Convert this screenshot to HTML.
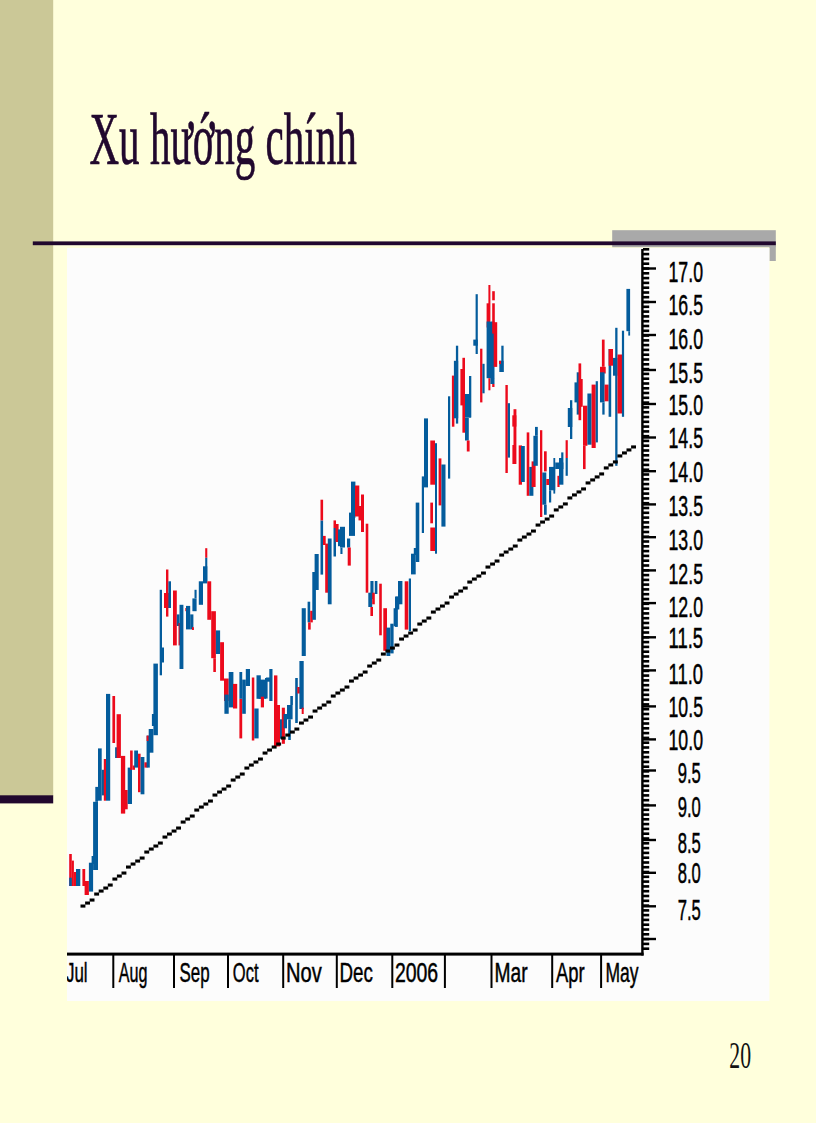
<!DOCTYPE html>
<html lang="vi">
<head>
<meta charset="utf-8">
<title>Xu hướng chính</title>
<style>
html,body{margin:0;padding:0}
body{width:816px;height:1123px;overflow:hidden;background:#FFFFDC;position:relative}
svg{position:absolute;left:0;top:0;display:block}
.sans{font-family:"Liberation Sans",sans-serif;fill:#000;stroke:#000;stroke-width:.3px}
.serif{font-family:"Liberation Serif",serif}
</style>
</head>
<body>
<svg width="816" height="1123" viewBox="0 0 816 1123">
<rect x="0" y="0" width="53.2" height="796" fill="#CBC897"/>
<rect x="0" y="795.3" width="53.2" height="8.1" fill="#21082E"/>
<rect x="612.2" y="230.2" width="163.6" height="17" fill="#A9A9A9"/>
<rect x="769.4" y="243" width="6.4" height="18" fill="#A9A9A9"/>
<rect x="67" y="248" width="702.4" height="753" fill="#FCFCFC"/>
<rect x="32.8" y="241.4" width="743" height="3.8" fill="#21082E"/>
<text class="serif" transform="translate(89.5,164) scale(0.553,1)" font-size="74.2" fill="#21082E" stroke="#21082E" stroke-width="0.7">Xu hướng chính</text>
<text class="serif" transform="translate(729.3,1068) scale(0.575,1)" font-size="37.9" fill="#111">20</text>
<g>
<rect x="69.2" y="854.0" width="2.6" height="32.0" fill="#EC0A1C"/>
<rect x="71.8" y="860.6" width="2.1" height="25.4" fill="#EC0A1C"/>
<rect x="69.2" y="877.7" width="2.6" height="8.3" fill="#045C9C"/>
<rect x="73.9" y="872.0" width="2.1" height="14.0" fill="#EC0A1C"/>
<rect x="76.0" y="869.0" width="4.3" height="17.0" fill="#045C9C"/>
<rect x="82.4" y="869.0" width="2.8" height="17.0" fill="#EC0A1C"/>
<rect x="84.6" y="881.0" width="4.3" height="14.0" fill="#EC0A1C"/>
<rect x="88.9" y="862.7" width="4.2" height="28.9" fill="#045C9C"/>
<rect x="91.6" y="856.0" width="3.7" height="8.0" fill="#045C9C"/>
<rect x="93.1" y="801.8" width="4.9" height="68.2" fill="#045C9C"/>
<rect x="95.3" y="786.9" width="2.7" height="14.9" fill="#045C9C"/>
<rect x="98.0" y="748.4" width="3.7" height="52.3" fill="#045C9C"/>
<rect x="101.7" y="769.8" width="4.3" height="25.6" fill="#045C9C"/>
<rect x="103.8" y="759.0" width="2.2" height="41.7" fill="#EC0A1C"/>
<rect x="106.0" y="693.9" width="4.2" height="106.8" fill="#045C9C"/>
<rect x="112.4" y="696.0" width="2.7" height="47.0" fill="#EC0A1C"/>
<rect x="115.1" y="747.3" width="3.7" height="10.7" fill="#045C9C"/>
<rect x="116.6" y="714.2" width="4.3" height="43.8" fill="#EC0A1C"/>
<rect x="120.9" y="755.9" width="4.3" height="57.7" fill="#EC0A1C"/>
<rect x="124.1" y="790.0" width="3.6" height="19.3" fill="#EC0A1C"/>
<rect x="127.7" y="767.6" width="4.3" height="36.4" fill="#045C9C"/>
<rect x="130.1" y="750.5" width="2.6" height="19.3" fill="#EC0A1C"/>
<rect x="132.7" y="765.5" width="2.3" height="4.3" fill="#EC0A1C"/>
<rect x="134.2" y="750.5" width="3.8" height="17.1" fill="#045C9C"/>
<rect x="138.0" y="753.7" width="2.6" height="38.5" fill="#EC0A1C"/>
<rect x="140.6" y="757.0" width="3.8" height="37.3" fill="#045C9C"/>
<rect x="144.4" y="762.3" width="3.2" height="5.3" fill="#EC0A1C"/>
<rect x="146.6" y="735.6" width="3.2" height="32.0" fill="#045C9C"/>
<rect x="146.6" y="735.6" width="2.1" height="5.4" fill="#EC0A1C"/>
<rect x="148.7" y="729.0" width="4.7" height="23.7" fill="#045C9C"/>
<rect x="151.9" y="714.0" width="4.3" height="12.0" fill="#045C9C"/>
<rect x="153.4" y="663.6" width="4.5" height="71.6" fill="#045C9C"/>
<rect x="159.7" y="589.8" width="2.3" height="85.5" fill="#045C9C"/>
<rect x="161.0" y="647.5" width="3.0" height="15.0" fill="#045C9C"/>
<rect x="164.0" y="593.0" width="4.9" height="15.0" fill="#EC0A1C"/>
<rect x="166.0" y="569.5" width="2.4" height="47.1" fill="#EC0A1C"/>
<rect x="168.4" y="581.3" width="2.6" height="26.7" fill="#045C9C"/>
<rect x="173.0" y="590.5" width="3.8" height="54.9" fill="#EC0A1C"/>
<rect x="176.8" y="614.4" width="2.7" height="11.6" fill="#045C9C"/>
<rect x="178.5" y="623.0" width="2.5" height="22.4" fill="#EC0A1C"/>
<rect x="179.5" y="604.8" width="3.9" height="64.2" fill="#045C9C"/>
<rect x="185.3" y="608.0" width="2.1" height="3.2" fill="#EC0A1C"/>
<rect x="186.0" y="605.9" width="4.2" height="23.5" fill="#045C9C"/>
<rect x="190.2" y="614.4" width="3.2" height="15.0" fill="#045C9C"/>
<rect x="192.0" y="627.2" width="1.9" height="2.8" fill="#EC0A1C"/>
<rect x="192.4" y="598.4" width="4.2" height="12.8" fill="#045C9C"/>
<rect x="194.5" y="589.8" width="2.1" height="8.6" fill="#045C9C"/>
<rect x="198.8" y="581.3" width="4.2" height="23.5" fill="#045C9C"/>
<rect x="203.0" y="566.3" width="4.3" height="17.1" fill="#045C9C"/>
<rect x="205.2" y="548.2" width="2.1" height="9.6" fill="#EC0A1C"/>
<rect x="205.2" y="557.8" width="2.1" height="23.5" fill="#045C9C"/>
<rect x="207.3" y="581.3" width="3.9" height="38.5" fill="#EC0A1C"/>
<rect x="211.2" y="611.2" width="4.7" height="47.0" fill="#EC0A1C"/>
<rect x="213.3" y="658.2" width="2.6" height="13.8" fill="#EC0A1C"/>
<rect x="215.9" y="630.4" width="4.2" height="23.6" fill="#045C9C"/>
<rect x="220.1" y="642.2" width="3.9" height="38.5" fill="#EC0A1C"/>
<rect x="224.0" y="678.5" width="4.7" height="22.5" fill="#EC0A1C"/>
<rect x="224.4" y="694.6" width="4.3" height="19.2" fill="#045C9C"/>
<rect x="228.7" y="672.0" width="4.7" height="35.4" fill="#045C9C"/>
<rect x="233.0" y="683.9" width="4.2" height="24.6" fill="#EC0A1C"/>
<rect x="239.4" y="698.8" width="2.8" height="39.6" fill="#EC0A1C"/>
<rect x="239.4" y="672.0" width="2.8" height="26.8" fill="#045C9C"/>
<rect x="242.2" y="679.6" width="3.6" height="34.2" fill="#045C9C"/>
<rect x="245.8" y="669.0" width="4.2" height="17.0" fill="#045C9C"/>
<rect x="251.8" y="677.5" width="2.5" height="63.0" fill="#EC0A1C"/>
<rect x="254.3" y="708.5" width="4.3" height="29.9" fill="#045C9C"/>
<rect x="256.5" y="675.3" width="4.3" height="23.5" fill="#045C9C"/>
<rect x="258.6" y="679.6" width="7.4" height="19.2" fill="#045C9C"/>
<rect x="260.8" y="696.7" width="3.2" height="10.7" fill="#EC0A1C"/>
<rect x="266.0" y="677.5" width="4.4" height="4.2" fill="#045C9C"/>
<rect x="269.3" y="669.0" width="3.2" height="32.0" fill="#045C9C"/>
<rect x="265.0" y="678.0" width="2.6" height="20.6" fill="#045C9C"/>
<rect x="274.0" y="675.4" width="3.4" height="71.0" fill="#EC0A1C"/>
<rect x="276.6" y="705.0" width="3.4" height="41.4" fill="#EC0A1C"/>
<rect x="280.0" y="719.3" width="3.6" height="19.4" fill="#045C9C"/>
<rect x="281.8" y="707.7" width="3.1" height="36.1" fill="#EC0A1C"/>
<rect x="283.6" y="714.0" width="3.4" height="14.3" fill="#045C9C"/>
<rect x="287.0" y="705.0" width="5.6" height="14.3" fill="#045C9C"/>
<rect x="288.2" y="719.3" width="2.6" height="20.7" fill="#045C9C"/>
<rect x="290.3" y="696.0" width="2.6" height="9.0" fill="#045C9C"/>
<rect x="295.2" y="678.0" width="2.6" height="45.0" fill="#045C9C"/>
<rect x="297.3" y="687.0" width="2.6" height="6.5" fill="#EC0A1C"/>
<rect x="299.4" y="661.0" width="4.3" height="48.0" fill="#045C9C"/>
<rect x="301.7" y="707.7" width="2.0" height="6.3" fill="#EC0A1C"/>
<rect x="301.7" y="608.2" width="4.1" height="47.8" fill="#045C9C"/>
<rect x="307.6" y="601.7" width="2.6" height="20.7" fill="#045C9C"/>
<rect x="308.1" y="622.4" width="2.6" height="7.2" fill="#EC0A1C"/>
<rect x="310.2" y="610.8" width="2.6" height="11.6" fill="#EC0A1C"/>
<rect x="312.3" y="572.0" width="3.6" height="47.8" fill="#045C9C"/>
<rect x="314.6" y="554.0" width="4.1" height="36.0" fill="#045C9C"/>
<rect x="320.5" y="520.4" width="2.6" height="54.2" fill="#045C9C"/>
<rect x="320.5" y="499.7" width="2.6" height="20.7" fill="#EC0A1C"/>
<rect x="323.0" y="535.9" width="2.7" height="9.1" fill="#EC0A1C"/>
<rect x="325.2" y="543.6" width="3.8" height="49.1" fill="#EC0A1C"/>
<rect x="327.8" y="538.5" width="3.8" height="65.8" fill="#045C9C"/>
<rect x="333.5" y="520.4" width="2.5" height="7.6" fill="#EC0A1C"/>
<rect x="333.5" y="528.0" width="2.5" height="28.5" fill="#045C9C"/>
<rect x="335.5" y="524.0" width="3.1" height="18.0" fill="#EC0A1C"/>
<rect x="338.0" y="529.4" width="3.7" height="16.8" fill="#045C9C"/>
<rect x="340.0" y="526.8" width="5.0" height="20.7" fill="#045C9C"/>
<rect x="340.4" y="547.5" width="2.1" height="6.5" fill="#045C9C"/>
<rect x="347.0" y="538.5" width="3.2" height="9.0" fill="#045C9C"/>
<rect x="347.7" y="547.5" width="3.1" height="18.1" fill="#EC0A1C"/>
<rect x="349.0" y="512.6" width="6.0" height="23.3" fill="#045C9C"/>
<rect x="351.0" y="481.6" width="4.4" height="36.2" fill="#045C9C"/>
<rect x="355.0" y="485.5" width="4.3" height="31.0" fill="#EC0A1C"/>
<rect x="358.5" y="506.0" width="2.5" height="14.4" fill="#EC0A1C"/>
<rect x="361.0" y="494.5" width="3.0" height="37.5" fill="#EC0A1C"/>
<rect x="365.7" y="523.7" width="2.6" height="69.0" fill="#EC0A1C"/>
<rect x="368.3" y="592.7" width="3.9" height="14.3" fill="#045C9C"/>
<rect x="370.4" y="581.0" width="3.1" height="18.0" fill="#045C9C"/>
<rect x="370.4" y="607.0" width="2.6" height="9.0" fill="#EC0A1C"/>
<rect x="372.2" y="592.7" width="2.6" height="11.6" fill="#EC0A1C"/>
<rect x="374.8" y="581.0" width="2.6" height="13.0" fill="#045C9C"/>
<rect x="379.2" y="583.7" width="2.6" height="51.6" fill="#EC0A1C"/>
<rect x="383.3" y="608.2" width="3.7" height="42.6" fill="#EC0A1C"/>
<rect x="386.4" y="627.6" width="3.9" height="28.4" fill="#045C9C"/>
<rect x="390.3" y="623.7" width="3.3" height="29.7" fill="#045C9C"/>
<rect x="393.6" y="608.2" width="3.7" height="18.1" fill="#045C9C"/>
<rect x="396.2" y="596.6" width="3.1" height="12.9" fill="#045C9C"/>
<rect x="398.0" y="581.0" width="4.4" height="23.3" fill="#045C9C"/>
<rect x="395.0" y="596.5" width="2.8" height="30.4" fill="#045C9C"/>
<rect x="404.7" y="581.3" width="3.6" height="48.3" fill="#EC0A1C"/>
<rect x="408.8" y="578.5" width="2.2" height="52.5" fill="#045C9C"/>
<rect x="411.0" y="553.7" width="4.7" height="20.7" fill="#045C9C"/>
<rect x="413.8" y="548.0" width="3.8" height="7.0" fill="#045C9C"/>
<rect x="415.7" y="502.6" width="3.6" height="59.4" fill="#045C9C"/>
<rect x="421.8" y="476.4" width="2.2" height="56.6" fill="#045C9C"/>
<rect x="424.0" y="418.4" width="4.0" height="69.0" fill="#045C9C"/>
<rect x="430.3" y="440.5" width="4.7" height="44.2" fill="#EC0A1C"/>
<rect x="430.3" y="502.6" width="2.7" height="20.7" fill="#EC0A1C"/>
<rect x="430.3" y="527.5" width="4.7" height="23.5" fill="#EC0A1C"/>
<rect x="435.0" y="443.2" width="2.0" height="110.5" fill="#045C9C"/>
<rect x="438.6" y="458.4" width="2.8" height="47.0" fill="#EC0A1C"/>
<rect x="441.4" y="464.5" width="4.1" height="62.1" fill="#045C9C"/>
<rect x="448.0" y="396.3" width="2.2" height="82.3" fill="#045C9C"/>
<rect x="451.9" y="375.6" width="2.5" height="51.1" fill="#EC0A1C"/>
<rect x="453.9" y="360.8" width="4.3" height="57.5" fill="#045C9C"/>
<rect x="455.9" y="345.7" width="2.3" height="77.9" fill="#045C9C"/>
<rect x="460.4" y="369.0" width="4.6" height="36.4" fill="#EC0A1C"/>
<rect x="462.4" y="357.8" width="2.6" height="74.9" fill="#EC0A1C"/>
<rect x="465.0" y="394.0" width="6.0" height="23.5" fill="#045C9C"/>
<rect x="465.0" y="417.5" width="3.8" height="23.0" fill="#045C9C"/>
<rect x="466.8" y="440.5" width="2.8" height="11.0" fill="#EC0A1C"/>
<rect x="469.0" y="376.0" width="2.3" height="41.5" fill="#045C9C"/>
<rect x="473.3" y="339.6" width="4.5" height="6.1" fill="#045C9C"/>
<rect x="475.6" y="294.2" width="2.2" height="59.8" fill="#045C9C"/>
<rect x="480.1" y="348.7" width="2.3" height="53.7" fill="#EC0A1C"/>
<rect x="482.4" y="363.8" width="2.2" height="29.5" fill="#045C9C"/>
<rect x="486.6" y="303.3" width="3.4" height="24.2" fill="#EC0A1C"/>
<rect x="488.4" y="285.0" width="2.0" height="36.5" fill="#EC0A1C"/>
<rect x="486.6" y="321.5" width="7.9" height="56.7" fill="#045C9C"/>
<rect x="488.4" y="378.2" width="2.0" height="12.1" fill="#EC0A1C"/>
<rect x="490.4" y="378.0" width="4.1" height="6.0" fill="#045C9C"/>
<rect x="492.2" y="384.0" width="2.3" height="3.0" fill="#EC0A1C"/>
<rect x="492.2" y="291.2" width="2.6" height="9.1" fill="#EC0A1C"/>
<rect x="492.2" y="303.3" width="2.6" height="30.3" fill="#EC0A1C"/>
<rect x="493.7" y="322.2" width="3.5" height="44.7" fill="#EC0A1C"/>
<rect x="499.3" y="360.8" width="4.3" height="11.2" fill="#045C9C"/>
<rect x="501.3" y="345.7" width="2.3" height="26.3" fill="#045C9C"/>
<rect x="499.0" y="360.8" width="2.0" height="3.2" fill="#EC0A1C"/>
<rect x="505.4" y="385.0" width="2.4" height="88.0" fill="#EC0A1C"/>
<rect x="507.8" y="403.2" width="2.2" height="54.4" fill="#045C9C"/>
<rect x="512.3" y="415.3" width="4.1" height="11.3" fill="#EC0A1C"/>
<rect x="513.5" y="409.2" width="2.9" height="54.8" fill="#EC0A1C"/>
<rect x="512.4" y="445.0" width="2.6" height="19.0" fill="#EC0A1C"/>
<rect x="518.7" y="445.4" width="3.3" height="39.3" fill="#EC0A1C"/>
<rect x="521.0" y="446.0" width="3.8" height="36.0" fill="#045C9C"/>
<rect x="526.7" y="432.4" width="2.6" height="63.4" fill="#EC0A1C"/>
<rect x="529.3" y="466.9" width="4.1" height="28.9" fill="#045C9C"/>
<rect x="531.6" y="461.4" width="4.0" height="25.6" fill="#EC0A1C"/>
<rect x="533.4" y="435.8" width="4.4" height="30.0" fill="#045C9C"/>
<rect x="535.0" y="426.9" width="2.8" height="8.9" fill="#045C9C"/>
<rect x="540.0" y="430.2" width="2.3" height="86.8" fill="#EC0A1C"/>
<rect x="542.3" y="472.5" width="4.0" height="32.2" fill="#045C9C"/>
<rect x="544.0" y="451.3" width="2.7" height="20.1" fill="#EC0A1C"/>
<rect x="544.0" y="504.7" width="2.7" height="10.1" fill="#045C9C"/>
<rect x="546.3" y="479.0" width="2.7" height="6.0" fill="#EC0A1C"/>
<rect x="549.0" y="466.9" width="6.2" height="23.4" fill="#045C9C"/>
<rect x="549.0" y="490.3" width="2.2" height="12.2" fill="#045C9C"/>
<rect x="553.4" y="458.0" width="1.8" height="35.6" fill="#045C9C"/>
<rect x="555.2" y="462.5" width="8.2" height="6.5" fill="#045C9C"/>
<rect x="557.4" y="475.8" width="2.2" height="11.2" fill="#EC0A1C"/>
<rect x="559.0" y="458.0" width="4.4" height="26.7" fill="#045C9C"/>
<rect x="561.2" y="452.4" width="2.2" height="5.6" fill="#045C9C"/>
<rect x="565.6" y="440.2" width="2.2" height="17.8" fill="#EC0A1C"/>
<rect x="565.6" y="458.0" width="2.2" height="17.8" fill="#045C9C"/>
<rect x="567.8" y="408.0" width="4.5" height="19.0" fill="#045C9C"/>
<rect x="570.0" y="400.2" width="2.3" height="38.8" fill="#045C9C"/>
<rect x="574.5" y="382.4" width="3.8" height="20.0" fill="#045C9C"/>
<rect x="576.7" y="372.3" width="2.7" height="42.3" fill="#045C9C"/>
<rect x="578.5" y="363.4" width="2.7" height="56.8" fill="#EC0A1C"/>
<rect x="580.0" y="379.0" width="2.7" height="27.8" fill="#EC0A1C"/>
<rect x="583.0" y="405.7" width="4.4" height="40.1" fill="#EC0A1C"/>
<rect x="583.0" y="445.8" width="2.6" height="23.3" fill="#EC0A1C"/>
<rect x="587.4" y="393.5" width="4.2" height="51.2" fill="#045C9C"/>
<rect x="591.6" y="384.6" width="4.1" height="63.4" fill="#EC0A1C"/>
<rect x="595.7" y="381.2" width="2.2" height="61.2" fill="#045C9C"/>
<rect x="600.0" y="366.8" width="5.7" height="6.7" fill="#EC0A1C"/>
<rect x="601.9" y="339.6" width="2.7" height="27.2" fill="#EC0A1C"/>
<rect x="600.0" y="372.3" width="4.6" height="30.1" fill="#045C9C"/>
<rect x="602.3" y="402.4" width="2.3" height="12.2" fill="#045C9C"/>
<rect x="604.6" y="384.6" width="4.0" height="16.7" fill="#EC0A1C"/>
<rect x="608.6" y="349.0" width="2.6" height="67.8" fill="#045C9C"/>
<rect x="608.6" y="349.0" width="4.4" height="16.7" fill="#EC0A1C"/>
<rect x="613.0" y="357.9" width="4.5" height="17.8" fill="#045C9C"/>
<rect x="615.2" y="327.8" width="2.3" height="138.0" fill="#045C9C"/>
<rect x="617.5" y="354.5" width="4.9" height="59.0" fill="#EC0A1C"/>
<rect x="621.9" y="330.7" width="2.2" height="86.1" fill="#045C9C"/>
<rect x="626.4" y="288.9" width="3.7" height="42.3" fill="#045C9C"/>
<rect x="628.3" y="331.2" width="1.8" height="4.4" fill="#045C9C"/>
</g>
<g fill="#000">
<rect x="80.5" y="904.5" width="4.9" height="3.1"/>
<rect x="85.1" y="901.5" width="4.9" height="3.1"/>
<rect x="89.6" y="898.5" width="4.9" height="3.1"/>
<rect x="94.2" y="892.5" width="4.9" height="3.1"/>
<rect x="98.7" y="889.5" width="4.9" height="3.1"/>
<rect x="103.3" y="886.5" width="4.9" height="3.1"/>
<rect x="107.8" y="883.5" width="4.9" height="3.1"/>
<rect x="112.4" y="877.5" width="4.9" height="3.1"/>
<rect x="116.9" y="874.5" width="4.9" height="3.1"/>
<rect x="121.5" y="871.5" width="4.9" height="3.1"/>
<rect x="126.0" y="865.5" width="4.9" height="3.1"/>
<rect x="130.6" y="862.5" width="4.9" height="3.1"/>
<rect x="135.2" y="859.5" width="4.9" height="3.1"/>
<rect x="139.7" y="856.5" width="4.9" height="3.1"/>
<rect x="144.3" y="850.5" width="4.9" height="3.1"/>
<rect x="148.8" y="847.5" width="4.9" height="3.1"/>
<rect x="153.4" y="844.5" width="4.9" height="3.1"/>
<rect x="157.9" y="841.5" width="4.9" height="3.1"/>
<rect x="162.5" y="835.5" width="4.9" height="3.1"/>
<rect x="167.0" y="832.5" width="4.9" height="3.1"/>
<rect x="171.6" y="829.5" width="4.9" height="3.1"/>
<rect x="176.1" y="826.5" width="4.9" height="3.1"/>
<rect x="180.7" y="820.5" width="4.9" height="3.1"/>
<rect x="185.2" y="817.5" width="4.9" height="3.1"/>
<rect x="189.8" y="814.5" width="4.9" height="3.1"/>
<rect x="194.3" y="808.5" width="4.9" height="3.1"/>
<rect x="198.9" y="805.5" width="4.9" height="3.1"/>
<rect x="203.4" y="802.5" width="4.9" height="3.1"/>
<rect x="208.0" y="799.5" width="4.9" height="3.1"/>
<rect x="212.5" y="793.5" width="4.9" height="3.1"/>
<rect x="217.1" y="790.5" width="4.9" height="3.1"/>
<rect x="221.6" y="787.5" width="4.9" height="3.1"/>
<rect x="226.2" y="784.5" width="4.9" height="3.1"/>
<rect x="230.7" y="778.5" width="4.9" height="3.1"/>
<rect x="235.3" y="775.5" width="4.9" height="3.1"/>
<rect x="239.8" y="772.5" width="4.9" height="3.1"/>
<rect x="244.4" y="766.5" width="4.9" height="3.1"/>
<rect x="248.9" y="763.5" width="4.9" height="3.1"/>
<rect x="253.5" y="760.5" width="4.9" height="3.1"/>
<rect x="258.0" y="757.5" width="4.9" height="3.1"/>
<rect x="262.6" y="751.5" width="4.9" height="3.1"/>
<rect x="267.1" y="748.5" width="4.9" height="3.1"/>
<rect x="271.7" y="745.5" width="4.9" height="3.1"/>
<rect x="276.2" y="742.5" width="4.9" height="3.1"/>
<rect x="280.8" y="736.5" width="4.9" height="3.1"/>
<rect x="285.3" y="733.5" width="4.9" height="3.1"/>
<rect x="289.9" y="730.5" width="4.9" height="3.1"/>
<rect x="294.4" y="727.5" width="4.9" height="3.1"/>
<rect x="299.0" y="721.5" width="4.9" height="3.1"/>
<rect x="303.5" y="718.5" width="4.9" height="3.1"/>
<rect x="308.1" y="715.5" width="4.9" height="3.1"/>
<rect x="312.6" y="709.5" width="4.9" height="3.1"/>
<rect x="317.2" y="706.5" width="4.9" height="3.1"/>
<rect x="321.7" y="703.5" width="4.9" height="3.1"/>
<rect x="326.3" y="700.5" width="4.9" height="3.1"/>
<rect x="330.8" y="694.5" width="4.9" height="3.1"/>
<rect x="335.4" y="691.5" width="4.9" height="3.1"/>
<rect x="339.9" y="688.5" width="4.9" height="3.1"/>
<rect x="344.5" y="685.5" width="4.9" height="3.1"/>
<rect x="349.0" y="679.5" width="4.9" height="3.1"/>
<rect x="353.6" y="676.5" width="4.9" height="3.1"/>
<rect x="358.1" y="673.5" width="4.9" height="3.1"/>
<rect x="362.7" y="670.5" width="4.9" height="3.1"/>
<rect x="367.2" y="664.5" width="4.9" height="3.1"/>
<rect x="371.8" y="661.5" width="4.9" height="3.1"/>
<rect x="376.3" y="658.5" width="4.9" height="3.1"/>
<rect x="380.9" y="652.5" width="4.9" height="3.1"/>
<rect x="385.4" y="649.5" width="4.9" height="3.1"/>
<rect x="390.0" y="646.5" width="4.9" height="3.1"/>
<rect x="394.5" y="643.5" width="4.9" height="3.1"/>
<rect x="399.1" y="637.5" width="4.9" height="3.1"/>
<rect x="403.6" y="634.5" width="4.9" height="3.1"/>
<rect x="408.2" y="631.5" width="4.9" height="3.1"/>
<rect x="412.7" y="628.5" width="4.9" height="3.1"/>
<rect x="417.3" y="622.5" width="4.9" height="3.1"/>
<rect x="421.8" y="619.5" width="4.9" height="3.1"/>
<rect x="426.4" y="616.5" width="4.9" height="3.1"/>
<rect x="430.9" y="610.5" width="4.9" height="3.1"/>
<rect x="435.5" y="607.5" width="4.9" height="3.1"/>
<rect x="440.0" y="604.5" width="4.9" height="3.1"/>
<rect x="444.6" y="601.5" width="4.9" height="3.1"/>
<rect x="449.1" y="595.5" width="4.9" height="3.1"/>
<rect x="453.7" y="592.5" width="4.9" height="3.1"/>
<rect x="458.2" y="589.5" width="4.9" height="3.1"/>
<rect x="462.8" y="586.5" width="4.9" height="3.1"/>
<rect x="467.3" y="580.5" width="4.9" height="3.1"/>
<rect x="471.9" y="577.5" width="4.9" height="3.1"/>
<rect x="476.4" y="574.5" width="4.9" height="3.1"/>
<rect x="481.0" y="571.5" width="4.9" height="3.1"/>
<rect x="485.5" y="565.5" width="4.9" height="3.1"/>
<rect x="490.1" y="562.5" width="4.9" height="3.1"/>
<rect x="494.6" y="559.5" width="4.9" height="3.1"/>
<rect x="499.2" y="553.5" width="4.9" height="3.1"/>
<rect x="503.7" y="550.5" width="4.9" height="3.1"/>
<rect x="508.3" y="547.5" width="4.9" height="3.1"/>
<rect x="512.8" y="544.5" width="4.9" height="3.1"/>
<rect x="517.4" y="538.5" width="4.9" height="3.1"/>
<rect x="521.9" y="535.5" width="4.9" height="3.1"/>
<rect x="526.5" y="532.5" width="4.9" height="3.1"/>
<rect x="531.0" y="529.5" width="4.9" height="3.1"/>
<rect x="535.6" y="523.5" width="4.9" height="3.1"/>
<rect x="540.1" y="520.5" width="4.9" height="3.1"/>
<rect x="544.7" y="517.5" width="4.9" height="3.1"/>
<rect x="549.2" y="514.5" width="4.9" height="3.1"/>
<rect x="553.8" y="508.4" width="4.9" height="3.1"/>
<rect x="558.3" y="505.4" width="4.9" height="3.1"/>
<rect x="562.9" y="502.4" width="4.9" height="3.1"/>
<rect x="567.4" y="496.4" width="4.9" height="3.1"/>
<rect x="572.0" y="493.4" width="4.9" height="3.1"/>
<rect x="576.5" y="490.4" width="4.9" height="3.1"/>
<rect x="581.1" y="487.4" width="4.9" height="3.1"/>
<rect x="585.6" y="481.4" width="4.9" height="3.1"/>
<rect x="590.2" y="478.4" width="4.9" height="3.1"/>
<rect x="594.7" y="475.4" width="4.9" height="3.1"/>
<rect x="599.2" y="472.4" width="4.9" height="3.1"/>
<rect x="603.8" y="466.4" width="4.9" height="3.1"/>
<rect x="608.3" y="463.4" width="4.9" height="3.1"/>
<rect x="612.9" y="460.4" width="4.9" height="3.1"/>
<rect x="617.4" y="454.4" width="4.9" height="3.1"/>
<rect x="622.0" y="451.4" width="4.9" height="3.1"/>
<rect x="626.5" y="448.4" width="4.9" height="3.1"/>
<rect x="631.1" y="445.4" width="4.9" height="3.1"/>
</g>
<g fill="#000">
<rect x="641.2" y="249" width="2.4" height="706.5"/>
<rect x="67" y="952.6" width="576.6" height="3"/>
<rect x="643" y="248.0" width="6.2" height="2.6"/>
<rect x="643" y="252.8" width="6.2" height="2.6"/>
<rect x="643" y="257.6" width="6.2" height="2.6"/>
<rect x="643" y="262.4" width="6.2" height="2.6"/>
<rect x="643" y="267.2" width="6.2" height="2.6"/>
<rect x="643" y="272.0" width="6.2" height="2.6"/>
<rect x="643" y="276.8" width="6.2" height="2.6"/>
<rect x="643" y="281.6" width="6.2" height="2.6"/>
<rect x="643" y="286.4" width="6.2" height="2.6"/>
<rect x="643" y="291.2" width="6.2" height="2.6"/>
<rect x="643" y="295.9" width="6.2" height="2.6"/>
<rect x="643" y="300.7" width="6.2" height="2.6"/>
<rect x="643" y="305.5" width="6.2" height="2.6"/>
<rect x="643" y="310.3" width="6.2" height="2.6"/>
<rect x="643" y="315.1" width="6.2" height="2.6"/>
<rect x="643" y="319.9" width="6.2" height="2.6"/>
<rect x="643" y="324.7" width="6.2" height="2.6"/>
<rect x="643" y="329.5" width="6.2" height="2.6"/>
<rect x="643" y="334.3" width="6.2" height="2.6"/>
<rect x="643" y="339.1" width="6.2" height="2.6"/>
<rect x="643" y="343.8" width="6.2" height="2.6"/>
<rect x="643" y="348.6" width="6.2" height="2.6"/>
<rect x="643" y="353.4" width="6.2" height="2.6"/>
<rect x="643" y="358.2" width="6.2" height="2.6"/>
<rect x="643" y="363.0" width="6.2" height="2.6"/>
<rect x="643" y="367.8" width="6.2" height="2.6"/>
<rect x="643" y="372.6" width="6.2" height="2.6"/>
<rect x="643" y="377.4" width="6.2" height="2.6"/>
<rect x="643" y="382.2" width="6.2" height="2.6"/>
<rect x="643" y="387.0" width="6.2" height="2.6"/>
<rect x="643" y="391.7" width="6.2" height="2.6"/>
<rect x="643" y="396.5" width="6.2" height="2.6"/>
<rect x="643" y="401.3" width="6.2" height="2.6"/>
<rect x="643" y="406.1" width="6.2" height="2.6"/>
<rect x="643" y="410.9" width="6.2" height="2.6"/>
<rect x="643" y="415.7" width="6.2" height="2.6"/>
<rect x="643" y="420.5" width="6.2" height="2.6"/>
<rect x="643" y="425.3" width="6.2" height="2.6"/>
<rect x="643" y="430.1" width="6.2" height="2.6"/>
<rect x="643" y="434.9" width="6.2" height="2.6"/>
<rect x="643" y="439.6" width="6.2" height="2.6"/>
<rect x="643" y="444.4" width="6.2" height="2.6"/>
<rect x="643" y="449.2" width="6.2" height="2.6"/>
<rect x="643" y="454.0" width="6.2" height="2.6"/>
<rect x="643" y="458.8" width="6.2" height="2.6"/>
<rect x="643" y="463.6" width="6.2" height="2.6"/>
<rect x="643" y="468.4" width="6.2" height="2.6"/>
<rect x="643" y="473.2" width="6.2" height="2.6"/>
<rect x="643" y="478.0" width="6.2" height="2.6"/>
<rect x="643" y="482.8" width="6.2" height="2.6"/>
<rect x="643" y="487.5" width="6.2" height="2.6"/>
<rect x="643" y="492.3" width="6.2" height="2.6"/>
<rect x="643" y="497.1" width="6.2" height="2.6"/>
<rect x="643" y="501.9" width="6.2" height="2.6"/>
<rect x="643" y="506.7" width="6.2" height="2.6"/>
<rect x="643" y="511.5" width="6.2" height="2.6"/>
<rect x="643" y="516.3" width="6.2" height="2.6"/>
<rect x="643" y="521.1" width="6.2" height="2.6"/>
<rect x="643" y="525.9" width="6.2" height="2.6"/>
<rect x="643" y="530.7" width="6.2" height="2.6"/>
<rect x="643" y="535.4" width="6.2" height="2.6"/>
<rect x="643" y="540.2" width="6.2" height="2.6"/>
<rect x="643" y="545.0" width="6.2" height="2.6"/>
<rect x="643" y="549.8" width="6.2" height="2.6"/>
<rect x="643" y="554.6" width="6.2" height="2.6"/>
<rect x="643" y="559.4" width="6.2" height="2.6"/>
<rect x="643" y="564.2" width="6.2" height="2.6"/>
<rect x="643" y="569.0" width="6.2" height="2.6"/>
<rect x="643" y="573.8" width="6.2" height="2.6"/>
<rect x="643" y="578.6" width="6.2" height="2.6"/>
<rect x="643" y="583.3" width="6.2" height="2.6"/>
<rect x="643" y="588.1" width="6.2" height="2.6"/>
<rect x="643" y="592.9" width="6.2" height="2.6"/>
<rect x="643" y="597.7" width="6.2" height="2.6"/>
<rect x="643" y="602.5" width="6.2" height="2.6"/>
<rect x="643" y="607.3" width="6.2" height="2.6"/>
<rect x="643" y="612.1" width="6.2" height="2.6"/>
<rect x="643" y="616.9" width="6.2" height="2.6"/>
<rect x="643" y="621.7" width="6.2" height="2.6"/>
<rect x="643" y="626.5" width="6.2" height="2.6"/>
<rect x="643" y="631.2" width="6.2" height="2.6"/>
<rect x="643" y="636.0" width="6.2" height="2.6"/>
<rect x="643" y="640.8" width="6.2" height="2.6"/>
<rect x="643" y="645.6" width="6.2" height="2.6"/>
<rect x="643" y="650.4" width="6.2" height="2.6"/>
<rect x="643" y="655.2" width="6.2" height="2.6"/>
<rect x="643" y="660.0" width="6.2" height="2.6"/>
<rect x="643" y="664.8" width="6.2" height="2.6"/>
<rect x="643" y="669.6" width="6.2" height="2.6"/>
<rect x="643" y="674.3" width="6.2" height="2.6"/>
<rect x="643" y="679.1" width="6.2" height="2.6"/>
<rect x="643" y="683.9" width="6.2" height="2.6"/>
<rect x="643" y="688.7" width="6.2" height="2.6"/>
<rect x="643" y="693.5" width="6.2" height="2.6"/>
<rect x="643" y="698.3" width="6.2" height="2.6"/>
<rect x="643" y="703.1" width="6.2" height="2.6"/>
<rect x="643" y="707.9" width="6.2" height="2.6"/>
<rect x="643" y="712.7" width="6.2" height="2.6"/>
<rect x="643" y="717.5" width="6.2" height="2.6"/>
<rect x="643" y="722.2" width="6.2" height="2.6"/>
<rect x="643" y="727.0" width="6.2" height="2.6"/>
<rect x="643" y="731.8" width="6.2" height="2.6"/>
<rect x="643" y="736.6" width="6.2" height="2.6"/>
<rect x="643" y="741.4" width="6.2" height="2.6"/>
<rect x="643" y="746.2" width="6.2" height="2.6"/>
<rect x="643" y="751.0" width="6.2" height="2.6"/>
<rect x="643" y="755.8" width="6.2" height="2.6"/>
<rect x="643" y="760.6" width="6.2" height="2.6"/>
<rect x="643" y="765.4" width="6.2" height="2.6"/>
<rect x="643" y="770.1" width="6.2" height="2.6"/>
<rect x="643" y="774.9" width="6.2" height="2.6"/>
<rect x="643" y="779.7" width="6.2" height="2.6"/>
<rect x="643" y="784.5" width="6.2" height="2.6"/>
<rect x="643" y="789.3" width="6.2" height="2.6"/>
<rect x="643" y="794.1" width="6.2" height="2.6"/>
<rect x="643" y="798.9" width="6.2" height="2.6"/>
<rect x="643" y="803.7" width="6.2" height="2.6"/>
<rect x="643" y="808.5" width="6.2" height="2.6"/>
<rect x="643" y="813.3" width="6.2" height="2.6"/>
<rect x="643" y="818.0" width="6.2" height="2.6"/>
<rect x="643" y="822.8" width="6.2" height="2.6"/>
<rect x="643" y="827.6" width="6.2" height="2.6"/>
<rect x="643" y="832.4" width="6.2" height="2.6"/>
<rect x="643" y="837.2" width="6.2" height="2.6"/>
<rect x="643" y="842.0" width="6.2" height="2.6"/>
<rect x="643" y="846.8" width="6.2" height="2.6"/>
<rect x="643" y="851.6" width="6.2" height="2.6"/>
<rect x="643" y="856.4" width="6.2" height="2.6"/>
<rect x="643" y="861.2" width="6.2" height="2.6"/>
<rect x="643" y="865.9" width="6.2" height="2.6"/>
<rect x="643" y="870.7" width="6.2" height="2.6"/>
<rect x="643" y="875.5" width="6.2" height="2.6"/>
<rect x="643" y="880.3" width="6.2" height="2.6"/>
<rect x="643" y="885.1" width="6.2" height="2.6"/>
<rect x="643" y="889.9" width="6.2" height="2.6"/>
<rect x="643" y="894.7" width="6.2" height="2.6"/>
<rect x="643" y="899.5" width="6.2" height="2.6"/>
<rect x="643" y="904.3" width="6.2" height="2.6"/>
<rect x="643" y="909.1" width="6.2" height="2.6"/>
<rect x="643" y="913.8" width="6.2" height="2.6"/>
<rect x="643" y="918.6" width="6.2" height="2.6"/>
<rect x="643" y="923.4" width="6.2" height="2.6"/>
<rect x="643" y="928.2" width="6.2" height="2.6"/>
<rect x="643" y="933.0" width="6.2" height="2.6"/>
<rect x="643" y="937.8" width="6.2" height="2.6"/>
<rect x="643" y="942.6" width="6.2" height="2.6"/>
<rect x="643" y="947.4" width="6.2" height="2.6"/>
<rect x="643" y="267.3" width="13" height="2.4"/>
<rect x="643" y="300.8" width="13" height="2.4"/>
<rect x="643" y="333.8" width="13" height="2.4"/>
<rect x="643" y="368.8" width="13" height="2.4"/>
<rect x="643" y="402.8" width="13" height="2.4"/>
<rect x="643" y="436.3" width="13" height="2.4"/>
<rect x="643" y="470.0" width="13" height="2.4"/>
<rect x="643" y="503.2" width="13" height="2.4"/>
<rect x="643" y="536.0" width="13" height="2.4"/>
<rect x="643" y="569.2" width="13" height="2.4"/>
<rect x="643" y="601.9" width="13" height="2.4"/>
<rect x="643" y="636.1" width="13" height="2.4"/>
<rect x="643" y="669.2" width="13" height="2.4"/>
<rect x="643" y="705.2" width="13" height="2.4"/>
<rect x="643" y="738.2" width="13" height="2.4"/>
<rect x="643" y="769.3" width="13" height="2.4"/>
<rect x="643" y="804.2" width="13" height="2.4"/>
<rect x="643" y="838.8" width="13" height="2.4"/>
<rect x="643" y="871.6" width="13" height="2.4"/>
<rect x="643" y="905.1" width="13" height="2.4"/>
<rect x="643" y="937.8" width="13" height="2.4"/>
<rect x="112.3" y="954" width="2" height="34"/>
<rect x="173.0" y="954" width="2" height="34"/>
<rect x="227.0" y="954" width="2" height="34"/>
<rect x="282.2" y="954" width="2" height="34"/>
<rect x="335.8" y="954" width="2" height="34"/>
<rect x="391.3" y="954" width="2" height="34"/>
<rect x="443.9" y="954" width="2" height="34"/>
<rect x="490.5" y="954" width="2" height="34"/>
<rect x="551.2" y="954" width="2" height="34"/>
<rect x="600.1" y="954" width="2" height="34"/>
</g>
<text class="sans" transform="translate(668.5,282.2) scale(1,1.72)" font-size="17.6" textLength="34.5" lengthAdjust="spacingAndGlyphs">17.0</text>
<text class="sans" transform="translate(668.5,315.4) scale(1,1.72)" font-size="17.6" textLength="34.5" lengthAdjust="spacingAndGlyphs">16.5</text>
<text class="sans" transform="translate(668.5,349.4) scale(1,1.72)" font-size="17.6" textLength="34.5" lengthAdjust="spacingAndGlyphs">16.0</text>
<text class="sans" transform="translate(668.5,382.9) scale(1,1.72)" font-size="17.6" textLength="34.5" lengthAdjust="spacingAndGlyphs">15.5</text>
<text class="sans" transform="translate(668.5,414.9) scale(1,1.72)" font-size="17.6" textLength="34.5" lengthAdjust="spacingAndGlyphs">15.0</text>
<text class="sans" transform="translate(668.5,448.4) scale(1,1.72)" font-size="17.6" textLength="34.5" lengthAdjust="spacingAndGlyphs">14.5</text>
<text class="sans" transform="translate(668.5,482.4) scale(1,1.72)" font-size="17.6" textLength="34.5" lengthAdjust="spacingAndGlyphs">14.0</text>
<text class="sans" transform="translate(668.5,516.4) scale(1,1.72)" font-size="17.6" textLength="34.5" lengthAdjust="spacingAndGlyphs">13.5</text>
<text class="sans" transform="translate(668.5,549.9) scale(1,1.72)" font-size="17.6" textLength="34.5" lengthAdjust="spacingAndGlyphs">13.0</text>
<text class="sans" transform="translate(668.5,583.9) scale(1,1.72)" font-size="17.6" textLength="34.5" lengthAdjust="spacingAndGlyphs">12.5</text>
<text class="sans" transform="translate(668.5,617.2) scale(1,1.72)" font-size="17.6" textLength="34.5" lengthAdjust="spacingAndGlyphs">12.0</text>
<text class="sans" transform="translate(668.5,648.1) scale(1,1.72)" font-size="17.6" textLength="34.5" lengthAdjust="spacingAndGlyphs">11.5</text>
<text class="sans" transform="translate(668.5,684.1) scale(1,1.72)" font-size="17.6" textLength="34.5" lengthAdjust="spacingAndGlyphs">11.0</text>
<text class="sans" transform="translate(668.5,716.9) scale(1,1.72)" font-size="17.6" textLength="34.5" lengthAdjust="spacingAndGlyphs">10.5</text>
<text class="sans" transform="translate(668.5,750.1) scale(1,1.72)" font-size="17.6" textLength="34.5" lengthAdjust="spacingAndGlyphs">10.0</text>
<text class="sans" transform="translate(677.7,783.0) scale(1,1.72)" font-size="17.6" textLength="23.1" lengthAdjust="spacingAndGlyphs">9.5</text>
<text class="sans" transform="translate(677.7,816.8) scale(1,1.72)" font-size="17.6" textLength="23.1" lengthAdjust="spacingAndGlyphs">9.0</text>
<text class="sans" transform="translate(677.7,853.4) scale(1,1.72)" font-size="17.6" textLength="23.1" lengthAdjust="spacingAndGlyphs">8.5</text>
<text class="sans" transform="translate(677.7,883.4) scale(1,1.72)" font-size="17.6" textLength="23.1" lengthAdjust="spacingAndGlyphs">8.0</text>
<text class="sans" transform="translate(677.7,919.7) scale(1,1.72)" font-size="17.6" textLength="23.1" lengthAdjust="spacingAndGlyphs">7.5</text>
<clipPath id="cc"><rect x="67" y="248" width="702.4" height="753"/></clipPath>
<g clip-path="url(#cc)">
<text class="sans" transform="translate(66.0,982.3) scale(1,1.62)" font-size="17" textLength="21.6" lengthAdjust="spacingAndGlyphs">Jul</text>
<text class="sans" transform="translate(118.8,982.3) scale(1,1.62)" font-size="17" textLength="28.7" lengthAdjust="spacingAndGlyphs">Aug</text>
<text class="sans" transform="translate(179.5,982.3) scale(1,1.62)" font-size="17" textLength="30.1" lengthAdjust="spacingAndGlyphs">Sep</text>
<text class="sans" transform="translate(232.8,982.3) scale(1,1.62)" font-size="17" textLength="25.7" lengthAdjust="spacingAndGlyphs">Oct</text>
<text class="sans" transform="translate(286.0,982.3) scale(1,1.62)" font-size="17" textLength="35.8" lengthAdjust="spacingAndGlyphs">Nov</text>
<text class="sans" transform="translate(339.4,982.3) scale(1,1.62)" font-size="17" textLength="33.4" lengthAdjust="spacingAndGlyphs">Dec</text>
<text class="sans" transform="translate(394.9,982.3) scale(1,1.62)" font-size="17" textLength="43.3" lengthAdjust="spacingAndGlyphs">2006</text>
<text class="sans" transform="translate(494.5,982.3) scale(1,1.62)" font-size="17" textLength="33.1" lengthAdjust="spacingAndGlyphs">Mar</text>
<text class="sans" transform="translate(555.9,982.3) scale(1,1.62)" font-size="17" textLength="28.7" lengthAdjust="spacingAndGlyphs">Apr</text>
<text class="sans" transform="translate(605.5,982.3) scale(1,1.62)" font-size="17" textLength="33.1" lengthAdjust="spacingAndGlyphs">May</text>
</g>
</svg>
</body>
</html>
